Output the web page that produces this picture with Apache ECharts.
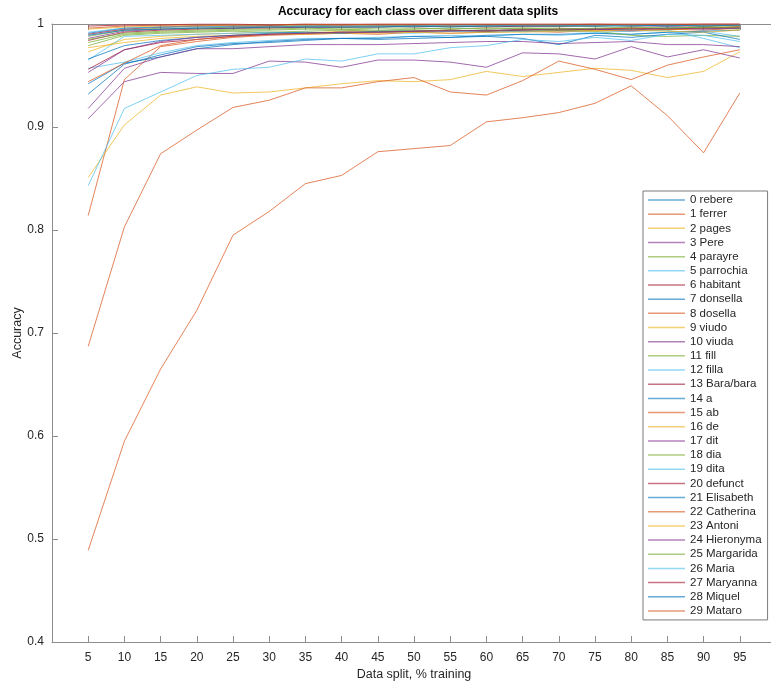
<!DOCTYPE html>
<html>
<head>
<meta charset="utf-8">
<title>Accuracy per class</title>
<script src="https://cdn.jsdelivr.net/npm/echarts@6/dist/echarts.min.js"></script>
<style>
  html, body { margin: 0; padding: 0; background: #ffffff; }
  #chart { width: 771px; height: 684px; }
</style>
</head>
<body>
<div id="chart"></div>
<script>
// Training share of each data split (%)
const splits = [5, 10, 15, 20, 25, 30, 35, 40, 45, 50, 55, 60, 65, 70, 75, 80, 85, 90, 95];

// Class names, in legend order
const classNames = [
  '0 rebere', '1 ferrer', '2 pages', '3 Pere', '4 parayre', '5 parrochia',
  '6 habitant', '7 donsella', '8 dosella', '9 viudo', '10 viuda', '11 fill',
  '12 filla', '13 Bara/bara', '14 a', '15 ab', '16 de', '17 dit', '18 dia',
  '19 dita', '20 defunct', '21 Elisabeth', '22 Catherina', '23 Antoni',
  '24 Hieronyma', '25 Margarida', '26 Maria', '27 Maryanna', '28 Miquel', '29 Mataro'
];

// Per-class accuracy for each split
const acc0  = [0.991,0.996,0.997,0.998,0.998,0.998,0.998,0.999,0.999,0.998,0.999,0.999,0.999,0.999,0.999,0.999,0.998,0.999,0.999];
const acc1  = [0.814,0.946,0.978,0.983,0.987,0.989,0.990,0.991,0.990,0.992,0.991,0.992,0.993,0.992,0.994,0.993,0.995,0.994,0.996];
const acc2  = [0.973,0.985,0.988,0.990,0.991,0.992,0.991,0.993,0.993,0.992,0.994,0.993,0.994,0.995,0.994,0.995,0.994,0.996,0.995];
const acc3  = [0.986,0.993,0.995,0.996,0.996,0.997,0.997,0.997,0.998,0.997,0.998,0.998,0.998,0.998,0.999,0.998,0.998,0.999,0.998];
const acc4  = [0.982,0.990,0.992,0.993,0.994,0.994,0.995,0.995,0.994,0.995,0.996,0.995,0.996,0.996,0.995,0.996,0.996,0.997,0.997];
const acc5  = [0.957,0.963,0.972,0.979,0.982,0.984,0.986,0.986,0.987,0.988,0.989,0.988,0.990,0.989,0.991,0.990,0.992,0.993,0.988];
const acc6  = [0.956,0.975,0.982,0.985,0.988,0.990,0.991,0.992,0.992,0.993,0.994,0.993,0.994,0.995,0.995,0.996,0.995,0.996,0.997];
const acc7  = [0.942,0.962,0.968,0.976,0.980,0.983,0.985,0.986,0.986,0.988,0.987,0.989,0.990,0.990,0.991,0.990,0.992,0.993,0.994];
const acc8  = [0.489,0.595,0.665,0.722,0.795,0.818,0.845,0.853,0.876,0.879,0.882,0.905,0.909,0.914,0.923,0.940,0.911,0.875,0.933];
const acc9  = [0.851,0.902,0.931,0.939,0.933,0.934,0.938,0.942,0.945,0.944,0.946,0.954,0.949,0.953,0.957,0.955,0.948,0.954,0.973];
const acc10 = [0.908,0.944,0.953,0.952,0.952,0.964,0.963,0.958,0.965,0.965,0.963,0.958,0.972,0.971,0.966,0.978,0.968,0.975,0.967];
const acc11 = [0.979,0.989,0.991,0.992,0.993,0.992,0.993,0.994,0.993,0.994,0.993,0.994,0.993,0.994,0.993,0.989,0.988,0.989,0.988];
const acc12 = [0.965,0.988,0.989,0.990,0.991,0.992,0.991,0.992,0.992,0.991,0.993,0.992,0.993,0.993,0.992,0.993,0.994,0.986,0.977];
const acc13 = [0.984,0.992,0.994,0.995,0.996,0.996,0.997,0.997,0.997,0.998,0.998,0.997,0.998,0.998,0.998,0.999,0.998,0.998,0.999];
const acc14 = [0.932,0.961,0.970,0.978,0.981,0.982,0.984,0.986,0.985,0.986,0.987,0.988,0.986,0.980,0.989,0.987,0.990,0.992,0.985];
const acc15 = [0.687,0.803,0.874,0.897,0.919,0.926,0.938,0.938,0.944,0.948,0.934,0.931,0.945,0.964,0.956,0.946,0.960,0.968,0.975];
const acc16 = [0.977,0.982,0.986,0.988,0.989,0.990,0.990,0.991,0.991,0.992,0.991,0.992,0.992,0.993,0.993,0.994,0.993,0.992,0.994];
const acc17 = [0.918,0.957,0.968,0.976,0.976,0.978,0.980,0.980,0.980,0.981,0.982,0.983,0.983,0.981,0.982,0.983,0.980,0.980,0.978];
const acc18 = [0.988,0.994,0.996,0.996,0.997,0.997,0.998,0.997,0.998,0.998,0.998,0.998,0.999,0.998,0.998,0.999,0.999,0.998,0.999];
const acc19 = [0.843,0.918,0.934,0.950,0.956,0.958,0.966,0.964,0.971,0.971,0.977,0.979,0.985,0.983,0.987,0.984,0.990,0.989,0.983];
const acc20 = [0.990,0.995,0.997,0.998,0.998,0.998,0.999,0.999,0.999,0.999,0.999,0.999,0.999,0.999,1.000,0.999,0.999,1.000,1.000];
const acc21 = [0.966,0.979,0.984,0.987,0.989,0.991,0.992,0.991,0.993,0.993,0.994,0.993,0.995,0.994,0.995,0.995,0.996,0.996,0.996];
const acc22 = [0.944,0.962,0.979,0.985,0.988,0.990,0.991,0.992,0.992,0.993,0.994,0.993,0.995,0.994,0.995,0.996,0.995,0.996,0.997];
const acc23 = [0.995,0.997,0.998,0.998,0.999,0.998,0.999,0.999,0.999,0.999,0.999,0.999,0.999,0.999,0.999,0.999,0.999,0.999,0.999];
const acc24 = [0.953,0.975,0.983,0.987,0.989,0.990,0.991,0.992,0.992,0.993,0.993,0.994,0.994,0.995,0.995,0.994,0.996,0.995,0.996];
const acc25 = [0.985,0.991,0.993,0.994,0.995,0.995,0.996,0.995,0.996,0.996,0.995,0.996,0.996,0.995,0.996,0.997,0.996,0.997,0.997];
const acc26 = [0.992,0.996,0.997,0.997,0.998,0.998,0.998,0.998,0.998,0.998,0.999,0.998,0.999,0.999,0.998,0.999,0.998,0.999,0.999];
const acc27 = [0.998,0.999,0.999,1.000,1.000,0.999,1.000,1.000,1.000,1.000,1.000,1.000,1.000,1.000,1.000,1.000,1.000,1.000,1.000];
const acc28 = [0.989,0.994,0.995,0.996,0.996,0.997,0.997,0.997,0.997,0.998,0.997,0.998,0.998,0.998,0.998,0.998,0.999,0.998,0.999];
const acc29 = [0.996,0.998,0.999,0.999,0.999,0.999,1.000,0.999,1.000,1.000,1.000,1.000,1.000,1.000,1.000,1.000,1.000,1.000,1.000];

const accuracy = [
  acc0, acc1, acc2, acc3, acc4, acc5, acc6, acc7, acc8, acc9,
  acc10, acc11, acc12, acc13, acc14, acc15, acc16, acc17, acc18, acc19,
  acc20, acc21, acc22, acc23, acc24, acc25, acc26, acc27, acc28, acc29
];

// Y tick values
const yTicks = [0.4, 0.5, 0.6, 0.7, 0.8, 0.9, 1];

// Classic 7-colour line order, cycled
const palette = ['#0072BD', '#D95319', '#EDB120', '#7E2F8E', '#77AC30', '#4DBEEE', '#A2142F'];

const FONT = '"Liberation Sans", Arial, Helvetica, sans-serif';
const AXIS_COLOR = '#8c8c8c';
const TEXT_COLOR = '#262626';

const series = classNames.map((name, i) => ({
  name: name,
  type: 'line',
  data: splits.map((s, j) => [s, accuracy[i][j]]),
  symbol: 'none',
  showSymbol: false,
  silent: true,
  animation: false,
  color: palette[i % palette.length],
  lineStyle: { width: 1, opacity: 0.72, color: palette[i % palette.length] },
  itemStyle: { color: palette[i % palette.length], opacity: 0.6 }
}));

const chart = echarts.init(document.getElementById('chart'), null, { renderer: 'canvas' });

chart.setOption({
  animation: false,
  backgroundColor: '#ffffff',
  textStyle: { fontFamily: FONT },
  title: {
    text: 'Accuracy for each class over different data splits',
    left: 413,
    top: 1,
    textAlign: 'center',
    textStyle: { fontFamily: FONT, fontSize: 12, fontWeight: 'bold', color: '#000000' }
  },
  grid: {
    show: false,
    left: 52, top: 24, width: 724, bottom: 42,
    containLabel: false,
    outerBoundsMode: 'none'
  },
  legend: {
    orient: 'vertical',
    left: 643,
    top: 191,
    padding: [3, 6, 3, 5],
    icon: 'rect',
    itemWidth: 37,
    itemHeight: 1.5,
    itemGap: 2.17,
    backgroundColor: '#ffffff',
    borderColor: '#7a7a7a',
    borderWidth: 1,
    borderRadius: 0,
    selectedMode: false,
    textStyle: { fontFamily: FONT, fontSize: 11.5, lineHeight: 12, color: TEXT_COLOR },
    data: classNames
  },
  xAxis: [
    {
      type: 'value',
      min: 0,
      max: 100,
      interval: 5,
      name: 'Data split, % training',
      nameLocation: 'middle',
      nameGap: 26,
      nameMoveOverlap: false,
      nameTextStyle: { fontFamily: FONT, fontSize: 12.5, color: TEXT_COLOR },
      axisLine: { show: true, onZero: false, lineStyle: { color: AXIS_COLOR, width: 1 } },
      axisTick: { show: true, inside: true, length: 6, lineStyle: { color: AXIS_COLOR } },
      axisLabel: {
        margin: 10,
        fontFamily: FONT,
        fontSize: 12,
        color: TEXT_COLOR,
        formatter: v => (v === 0 || v === 100) ? '' : String(v)
      },
      splitLine: { show: false },
      splitArea: { show: false }
    },
    {
      type: 'value',
      position: 'top',
      min: 0,
      max: 100,
      interval: 5,
      axisLine: { show: true, onZero: false, lineStyle: { color: AXIS_COLOR, width: 1 } },
      axisTick: { show: true, inside: true, length: 6, lineStyle: { color: AXIS_COLOR } },
      axisLabel: { show: false },
      splitLine: { show: false },
      splitArea: { show: false }
    }
  ],
  yAxis: {
    type: 'value',
    position: 'left',
    min: yTicks[0],
    max: yTicks[yTicks.length - 1],
    interval: 0.1,
    name: 'Accuracy',
    nameLocation: 'middle',
    nameGap: 28,
    nameMoveOverlap: false,
    nameTextStyle: { fontFamily: FONT, fontSize: 12.5, color: TEXT_COLOR },
    axisLine: { show: true, onZero: false, lineStyle: { color: AXIS_COLOR, width: 1 } },
    axisTick: { show: true, inside: true, length: 6, lineStyle: { color: AXIS_COLOR } },
    axisLabel: {
      margin: 8,
      fontFamily: FONT,
      fontSize: 12,
      color: TEXT_COLOR,
      formatter: v => String(Math.round(v * 10) / 10)
    },
    splitLine: { show: false },
    splitArea: { show: false }
  },
  series: series
});
</script>
</body>
</html>
